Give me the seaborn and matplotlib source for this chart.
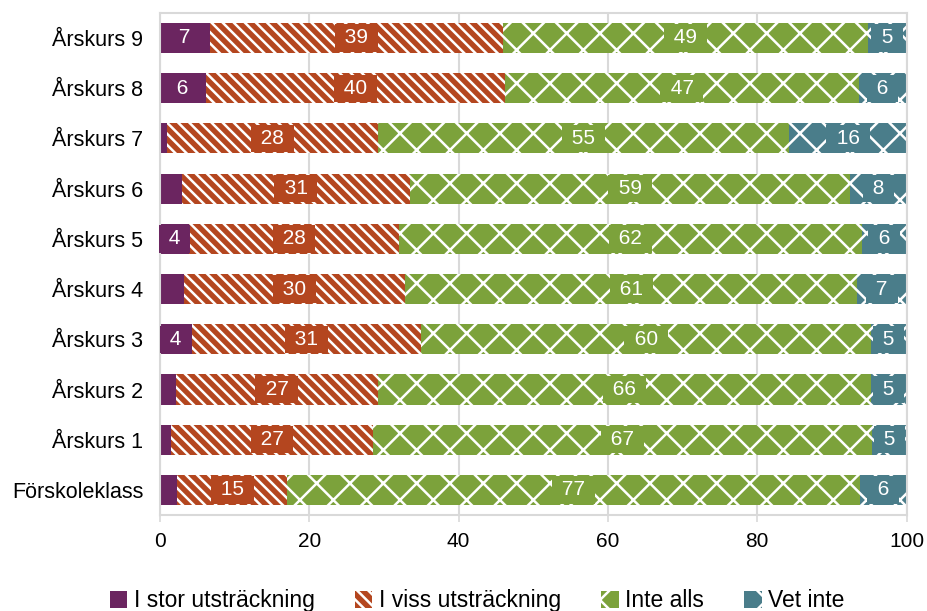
import numpy as np
import pandas as pd
import matplotlib
matplotlib.use("Agg")
import matplotlib.pyplot as plt
import matplotlib.patches as mpatches
import seaborn as sns

# Data (percent)
categories = ["Årskurs 9", "Årskurs 8", "Årskurs 7", "Årskurs 6", "Årskurs 5",
              "Årskurs 4", "Årskurs 3", "Årskurs 2", "Årskurs 1", "Förskoleklass"]
series_names = ["I stor utsträckning", "I viss utsträckning", "Inte alls", "Vet inte"]
stor = [6.7, 6.1, 1.0, 2.9, 3.9, 3.2, 4.3, 2.1, 1.5, 2.3]
viss = [39.2, 40.1, 28.2, 30.6, 28.1, 29.6, 30.7, 27.1, 27.0, 14.7]
inte = [48.9, 47.4, 55.1, 58.9, 62.0, 60.6, 60.2, 66.0, 66.9, 76.7]
vet = [5.2, 6.4, 15.7, 7.6, 6.0, 6.6, 4.8, 4.8, 4.6, 6.3]
x_ticks = [0, 20, 40, 60, 80, 100]

colors = ["#6b2560", "#b4461f", "#7ca23b", "#4a7d8a"]
hatches = [None, "\\\\\\", "x", "x"]

df = pd.DataFrame({"kategori": categories, series_names[0]: stor,
                   series_names[1]: viss, series_names[2]: inte,
                   series_names[3]: vet})

plt.rcParams["font.family"] = ["Liberation Sans", "DejaVu Sans"]
plt.rcParams["hatch.linewidth"] = 1.8

fig = plt.figure(figsize=(9.27, 6.11), dpi=100)
ax = fig.add_axes([0.1726, 0.157, 0.8054, 0.822])

# cumulative sums, drawn back to front so each segment sits on top
cum = df[series_names].cumsum(axis=1)
lefts = cum.shift(1, axis=1).fillna(0)

for i in reversed(range(len(series_names))):
    name = series_names[i]
    tmp = pd.DataFrame({"kategori": categories, "x": cum[name]})
    sns.barplot(data=tmp, x="x", y="kategori", color=colors[i], saturation=1,
                width=0.6, errorbar=None, edgecolor="white", linewidth=0, ax=ax)
    if hatches[i]:
        for p in ax.containers[-1]:
            p.set_hatch(hatches[i])

# value labels on coloured boxes
for i, name in enumerate(series_names):
    for j, cat in enumerate(categories):
        val = df[name][j]
        if val < 3.5:
            continue
        xc = lefts[name][j] + val / 2
        ax.text(xc, j, f" {round(val)} ", ha="center", va="center", color="white",
                fontsize=15,
                bbox=dict(boxstyle="square,pad=0.2", facecolor=colors[i],
                          edgecolor="none"))

ax.set_xlim(0, 100)
ax.set_ylim(len(categories) - 0.5, -0.5)
ax.set_xticks(x_ticks)
ax.set_xlabel("")
ax.set_ylabel("")
ax.set_axisbelow(True)
ax.grid(axis="x", color="#d9d9d9", linewidth=1.5)
ax.grid(axis="y", visible=False)
for s in ax.spines.values():
    s.set_color("#d9d9d9")
    s.set_linewidth(1.5)
ax.tick_params(axis="y", length=0, pad=12, labelsize=15.5)
ax.tick_params(axis="x", length=5, width=1.2, color="#d9d9d9", pad=7, labelsize=15)

handles = [mpatches.Patch(facecolor=c, hatch=h, edgecolor="white", linewidth=0,
                          label=n) for c, h, n in zip(colors, hatches, series_names)]
fig.legend(handles=handles, loc="center", bbox_to_anchor=(0.515, 0.017), ncol=4,
           frameon=False, fontsize=16.5, handlelength=0.75, handleheight=0.75,
           handletextpad=0.3, columnspacing=1.75)

fig.savefig("out.png", dpi=100)
